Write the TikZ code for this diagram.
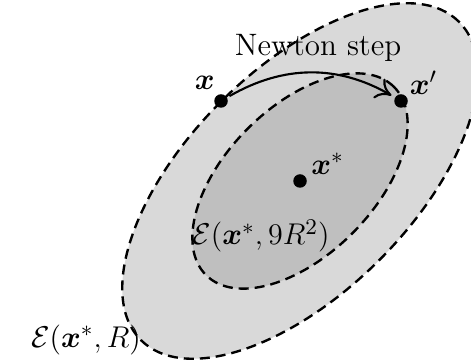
\documentclass[tikz,border=0pt]{standalone}
\usepackage{amsmath,amssymb,amsfonts}
\usepackage{xcolor}
\usepackage{tikz}
\usetikzlibrary{arrows.meta,positioning,calc}

\begin{document}
\begin{tikzpicture}[x=0.4pt,y=0.4pt,
  font=\fontsize{12.4}{15}\selectfont,
  dot/.style={circle, fill=black, inner sep=0pt, minimum size=5.4pt},
  border/.style={draw=black, line width=0.95pt, dash pattern=on 4pt off 2.4pt}]
\useasboundingbox (0,-364) rectangle (471,0);
% the two ellipses around the minimiser
\coordinate (xs) at (300,-181);
\draw[border, fill=gray!30] (xs) ellipse [x radius=225, y radius=112, rotate=45];
\draw[border, fill=gray!50] (xs) ellipse [x radius=133, y radius=74, rotate=45];
% points
\node[dot] (xstar) at (300,-181) {};
\node[dot] (x) at (221,-101) {};
\node[dot] (xp) at (401,-101) {};
\node[above right=-3pt and -1pt of xstar] {$\boldsymbol{x}^*$};
\node[above left=-1pt and -3pt of x] {$\boldsymbol{x}$};
\node[above right=-3pt and -2pt of xp] {$\boldsymbol{x}'$};
\draw[line width=0.85pt, -{To[length=6pt,width=9pt]}, shorten >=1.5pt, shorten <=1pt] (x) to[bend left=30] (xp);
\node (step) at (318,-48) {Newton step};
% labels of the ellipses
\node (big) at (86,-340) {$\mathcal{E}(\boldsymbol{x}^*,R)$};
\node (small) at (261,-236) {$\mathcal{E}(\boldsymbol{x}^*,9R^2)$};
\end{tikzpicture}
\end{document}
